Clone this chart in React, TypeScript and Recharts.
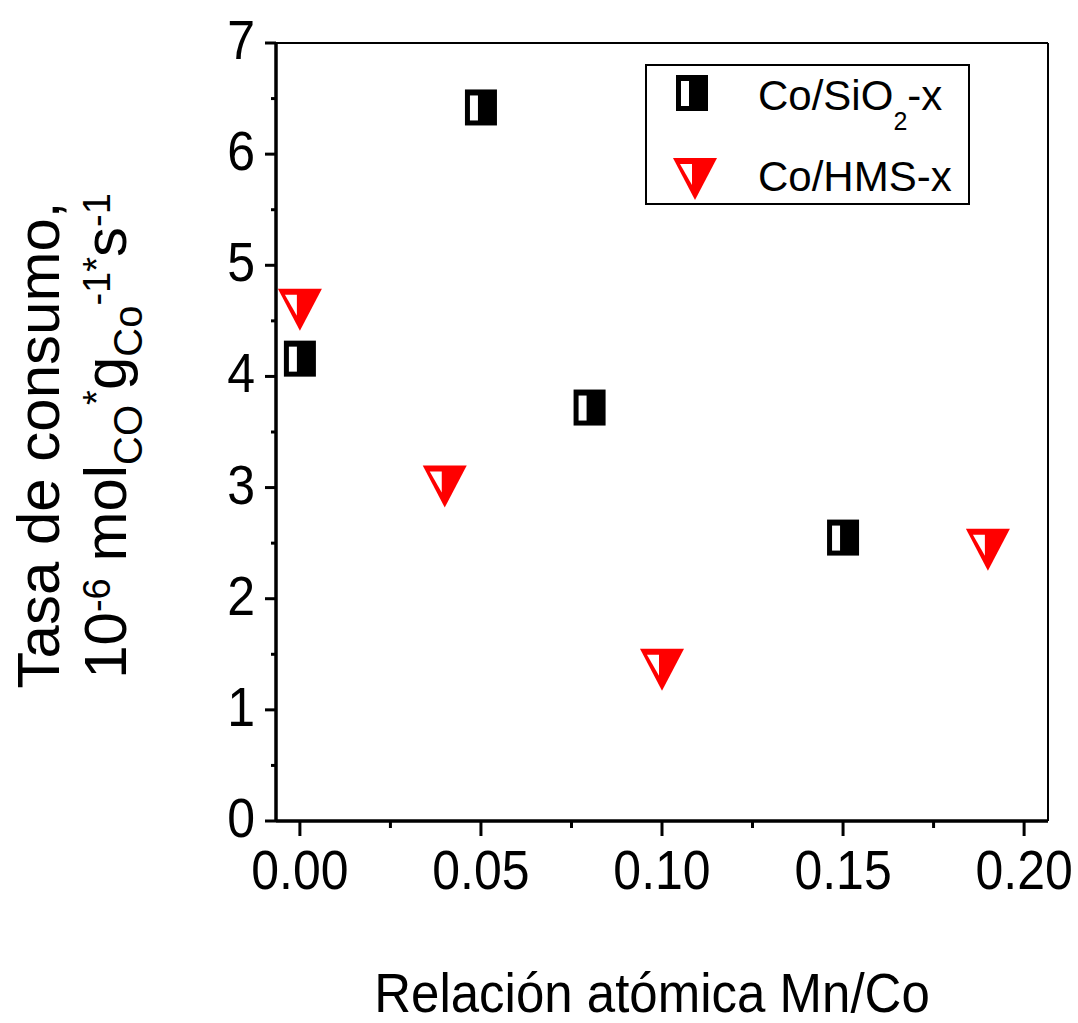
import { ScatterChart, Scatter, XAxis, YAxis, ReferenceLine, Legend } from 'recharts';

// Co/SiO2-x series
const sio2Ratio = [0, 0.05, 0.08, 0.15];
const sio2Rate = [4.16, 6.42, 3.72, 2.55];

// Co/HMS-x series
const hmsRatio = [0, 0.04, 0.1, 0.19];
const hmsRate = [4.6, 3.01, 1.36, 2.44];

const xTicks = [0, 0.025, 0.05, 0.075, 0.1, 0.125, 0.15, 0.175, 0.2];
const yTicks = [0, 0.5, 1, 1.5, 2, 2.5, 3, 3.5, 4, 4.5, 5, 5.5, 6, 6.5, 7];

const X_DOMAIN: [number, number] = [-0.0066, 0.2066];
const Y_DOMAIN: [number, number] = [0, 7];

const FONT = '"Liberation Sans", Arial, sans-serif';
const PLOT_LEFT = 276;
const PLOT_BOTTOM = 821;

const sio2Data = sio2Ratio.map((x, i) => ({ x, y: sio2Rate[i] }));
const hmsData = hmsRatio.map((x, i) => ({ x, y: hmsRate[i] }));

function SquareMarker({ cx, cy }: { cx: number; cy: number }) {
  return (
    <g>
      <rect x={cx - 16} y={cy - 18} width={32} height={36} fill="#000" />
      <rect x={cx - 11} y={cy - 12} width={8} height={25} fill="#fff" />
    </g>
  );
}

function TriangleMarker({ cx, cy }: { cx: number; cy: number }) {
  return (
    <g>
      <polygon points={`${cx - 22},${cy - 21} ${cx + 22},${cy - 21} ${cx},${cy + 21}`} fill="#ff0000" />
      <polygon points={`${cx - 15},${cy - 15} ${cx - 3},${cy - 15} ${cx - 3},${cy + 6}`} fill="#fff" />
    </g>
  );
}

const isMajor = (v: number, step: number) => Math.abs(v / step - Math.round(v / step)) < 1e-6;

function XTick(props: any) {
  const { x, payload } = props;
  const v = payload.value as number;
  const major = isMajor(v, 0.05);
  return (
    <g>
      <line x1={x} x2={x} y1={PLOT_BOTTOM} y2={PLOT_BOTTOM + (major ? 15 : 7)} stroke="#000" strokeWidth={3} />
      {major && (
        <text
          transform={`translate(${x},889) scale(1,1.12)`}
          textAnchor="middle"
          fontFamily={FONT}
          fontSize={50}
          fill="#000"
        >
          {v.toFixed(2)}
        </text>
      )}
    </g>
  );
}

function YTick(props: any) {
  const { y, payload } = props;
  const v = payload.value as number;
  const major = isMajor(v, 1);
  return (
    <g>
      <line x1={PLOT_LEFT - (major ? 11 : 5)} x2={PLOT_LEFT} y1={y} y2={y} stroke="#000" strokeWidth={3} />
      {major && (
        <text
          transform={`translate(255,${y + 16}) scale(1,1.1)`}
          textAnchor="end"
          fontFamily={FONT}
          fontSize={50}
          fill="#000"
        >
          {v}
        </text>
      )}
    </g>
  );
}

function XTitle() {
  return (
    <text
      transform="translate(652,1012) scale(1,1.1)"
      textAnchor="middle"
      fontFamily={FONT}
      fontSize={51}
      fill="#000"
    >
      Relación atómica Mn/Co
    </text>
  );
}

function YTitle() {
  return (
    <g fontFamily={FONT} fill="#000">
      <text transform="translate(59,445) rotate(-90)" textAnchor="middle" fontSize={60}>
        Tasa de consumo,
      </text>
      <text transform="translate(126,436) rotate(-90)" textAnchor="middle" fontSize={60}>
        <tspan>10</tspan>
        <tspan fontSize={38} dy={-16}>-6</tspan>
        <tspan dy={16}> mol</tspan>
        <tspan fontSize={40} dy={16}>CO</tspan>
        <tspan fontSize={38} dy={-32}>*</tspan>
        <tspan dy={16}>g</tspan>
        <tspan fontSize={40} dy={16}>Co</tspan>
        <tspan fontSize={38} dy={-32}>-1*</tspan>
        <tspan dy={16}>s</tspan>
        <tspan fontSize={38} dy={-16}>-1</tspan>
      </text>
    </g>
  );
}

function LegendBox() {
  return (
    <svg width={325} height={141} style={{ display: 'block' }}>
      <rect x={1} y={1} width={323} height={139} fill="#fff" stroke="#000" strokeWidth={2} />
      <SquareMarker cx={47} cy={29} />
      <text x={113} y={46} fontFamily={FONT} fontSize={42} fill="#000">
        <tspan>Co/SiO</tspan>
        <tspan fontSize={25} dy={20}>2</tspan>
        <tspan dy={-20}>-x</tspan>
      </text>
      <TriangleMarker cx={50} cy={115} />
      <text x={113} y={127} fontFamily={FONT} fontSize={42} fill="#000">
        Co/HMS-x
      </text>
    </svg>
  );
}

export default function App() {
  return (
    <div style={{ position: 'absolute', left: 0, top: 0, background: '#fff' }}>
      <ScatterChart width={1078} height={1023} margin={{ top: 43, right: 30, bottom: 142, left: 200 }}>
        <XAxis
          type="number"
          dataKey="x"
          domain={X_DOMAIN}
          allowDataOverflow
          ticks={xTicks}
          interval={0}
          tick={<XTick />}
          tickLine={false}
          axisLine={{ stroke: '#000', strokeWidth: 3.5 }}
          height={60}
          label={{ content: XTitle }}
        />
        <YAxis
          type="number"
          dataKey="y"
          domain={Y_DOMAIN}
          allowDataOverflow
          ticks={yTicks}
          interval={0}
          tick={<YTick />}
          tickLine={false}
          axisLine={{ stroke: '#000', strokeWidth: 3.5 }}
          width={76}
          label={{ content: YTitle }}
        />
        <ReferenceLine y={Y_DOMAIN[1]} stroke="#000" strokeWidth={2} />
        <ReferenceLine x={X_DOMAIN[1]} stroke="#000" strokeWidth={2} />
        <Legend
          layout="vertical"
          align="center"
          verticalAlign="middle"
          wrapperStyle={{ left: 645, top: 64, width: 325, height: 141 }}
          content={() => <LegendBox />}
        />
        <Scatter
          name="Co/SiO2-x"
          data={sio2Data}
          shape={(p: any) => <SquareMarker cx={p.cx} cy={p.cy} />}
          isAnimationActive={false}
        />
        <Scatter
          name="Co/HMS-x"
          data={hmsData}
          shape={(p: any) => <TriangleMarker cx={p.cx} cy={p.cy} />}
          isAnimationActive={false}
        />
      </ScatterChart>
    </div>
  );
}
